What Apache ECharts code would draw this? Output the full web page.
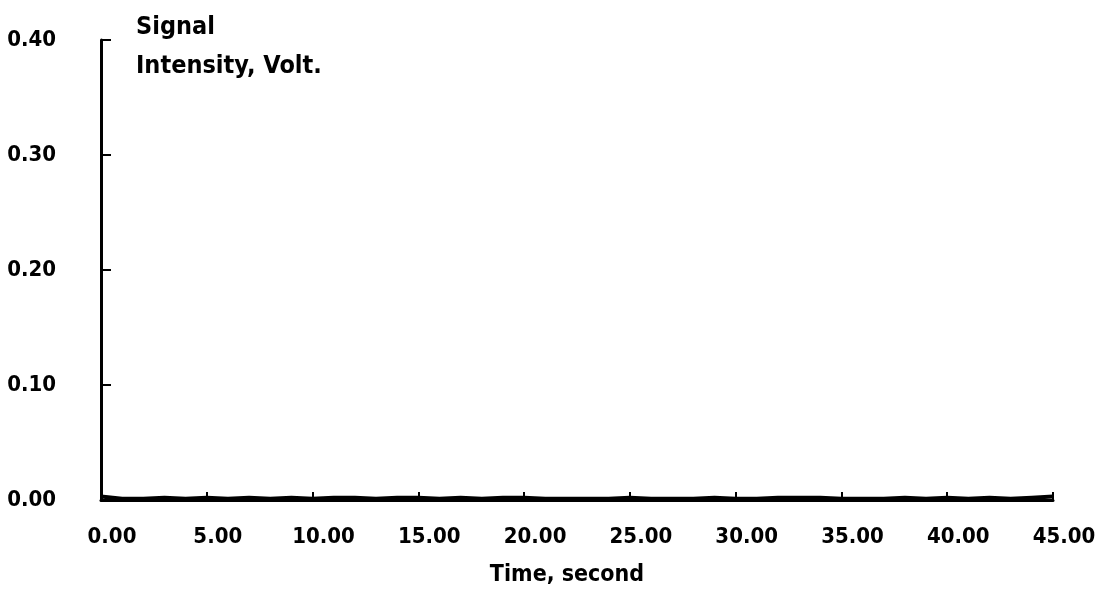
<!DOCTYPE html>
<html>
<head>
<meta charset="utf-8">
<script src="https://cdn.jsdelivr.net/npm/echarts@6/dist/echarts.min.js"></script>
<style>
  html, body { margin: 0; padding: 0; background: #fff; }
  #chart { width: 1099px; height: 594px; }
</style>
</head>
<body>
<div id="chart"></div>
<script>
// Sampling times (s) and measured signal intensity (V)
const timeSec = [0, 1, 2, 3, 4, 5, 6, 7, 8, 9, 10, 11, 12, 13, 14, 15, 16, 17, 18, 19, 20, 21, 22,
  23, 24, 25, 26, 27, 28, 29, 30, 31, 32, 33, 34, 35, 36, 37, 38, 39, 40, 41, 42, 43, 44, 45];
const intensityVolt = [0.003, 0.001, 0.001, 0.002, 0.001, 0.002, 0.001, 0.002, 0.001, 0.002,
  0.001, 0.002, 0.002, 0.001, 0.002, 0.002, 0.001, 0.002, 0.001, 0.002,
  0.002, 0.001, 0.001, 0.001, 0.001, 0.002, 0.001, 0.001, 0.001, 0.002,
  0.001, 0.001, 0.002, 0.002, 0.002, 0.001, 0.001, 0.001, 0.002, 0.001,
  0.002, 0.001, 0.002, 0.001, 0.002, 0.003];

const xTicks = { min: 0, max: 45, interval: 5 };
const yTicks = { min: 0, max: 0.4, interval: 0.1 };

const FONT = "'Liberation Sans Narrow', 'DejaVu Sans Condensed', 'Liberation Sans', sans-serif";

const chart = echarts.init(document.getElementById('chart'));
chart.setOption({
  backgroundColor: '#ffffff',
  animation: false,
  grid: { left: 101, right: 46, top: 40, bottom: 94, containLabel: false },
  graphic: [
    { type: 'text', left: 136, top: 15,
      style: { text: 'Signal', font: 'bold 25px ' + FONT, fill: '#000' } },
    { type: 'text', left: 136, top: 54,
      style: { text: 'Intensity, Volt.', font: 'bold 25px ' + FONT, fill: '#000' } }
  ],
  xAxis: {
    type: 'value',
    min: xTicks.min, max: xTicks.max, interval: xTicks.interval,
    name: 'Time, second',
    nameLocation: 'middle',
    nameGap: 64,
    nameTextStyle: { color: '#000', fontFamily: FONT, fontWeight: 'bold', fontSize: 23, padding: [0, 20, 0, 0] },
    axisLine: { lineStyle: { color: '#000', width: 3 } },
    axisTick: { inside: true, length: 8, lineStyle: { color: '#000', width: 2 } },
    splitLine: { show: false },
    axisLabel: {
      color: '#000', fontFamily: FONT, fontWeight: 'bold', fontSize: 22,
      margin: 26, padding: [0, 0, 0, 22],
      formatter: v => v.toFixed(2)
    }
  },
  yAxis: {
    type: 'value',
    min: yTicks.min, max: yTicks.max, interval: yTicks.interval,
    axisLine: { lineStyle: { color: '#000', width: 3 } },
    axisTick: { inside: true, length: 10, lineStyle: { color: '#000', width: 2 } },
    splitLine: { show: false },
    axisLabel: {
      color: '#000', fontFamily: FONT, fontWeight: 'bold', fontSize: 22,
      margin: 45,
      formatter: v => v.toFixed(2)
    }
  },
  series: [{
    type: 'line',
    data: timeSec.map((t, i) => [t, intensityVolt[i]]),
    showSymbol: false,
    lineStyle: { color: '#000', width: 4 },
    silent: true
  }]
});
</script>
</body>
</html>
